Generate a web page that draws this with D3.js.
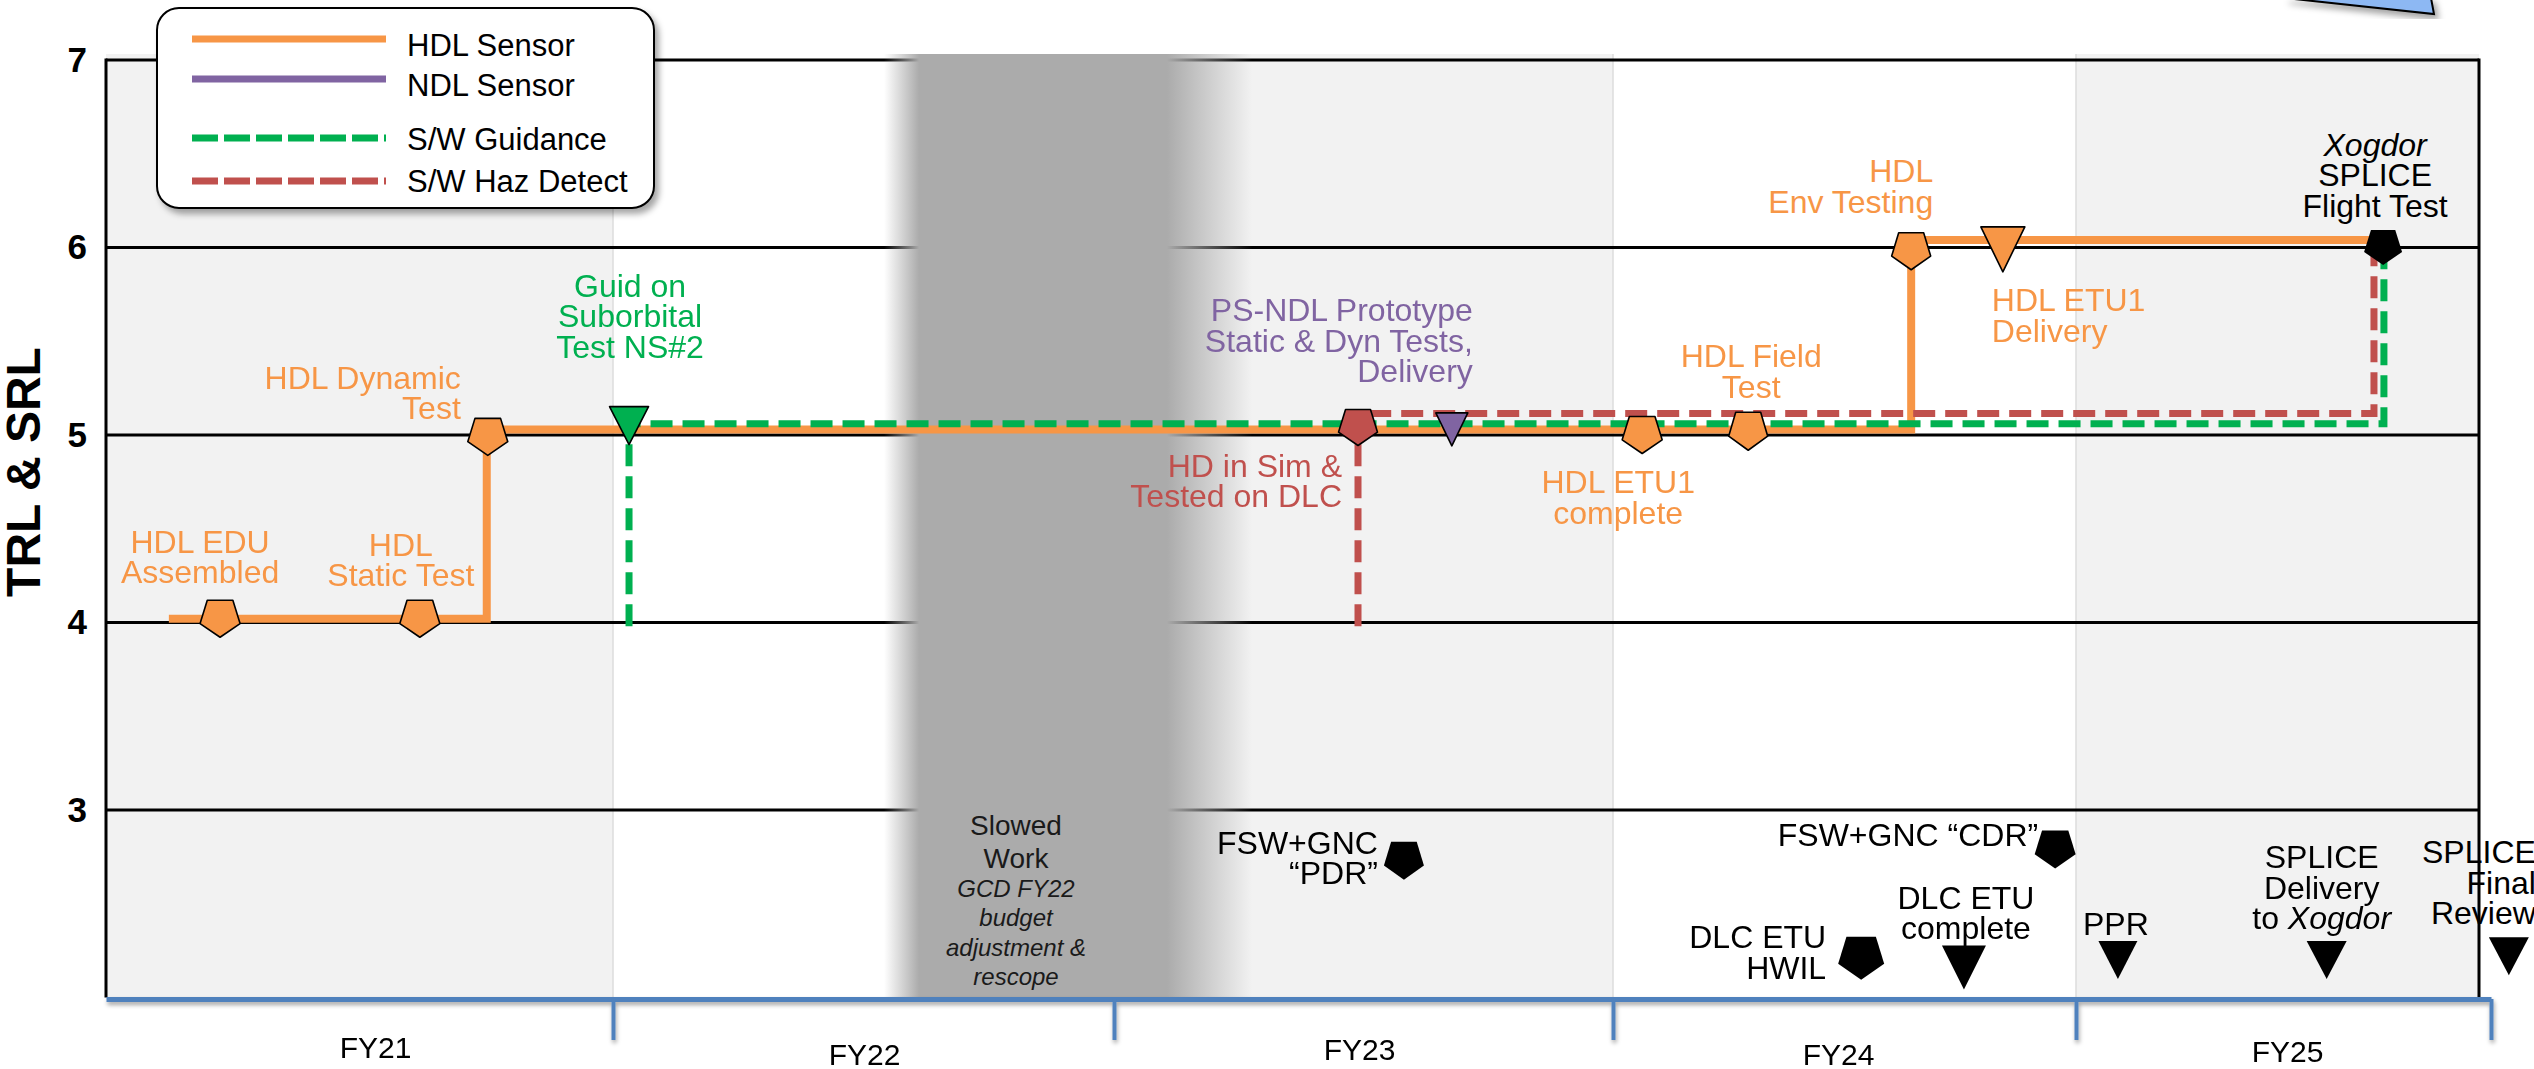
<!DOCTYPE html>
<html><head><meta charset="utf-8">
<script src="https://cdn.jsdelivr.net/npm/d3@7"></script>
<style>html,body{margin:0;padding:0;background:#fff;overflow:hidden}</style>
</head><body>
<svg id="chart" width="2534" height="1069"></svg>
<script>
// ================= DATA =================
const fiscalYears = ["FY21", "FY22", "FY23", "FY24", "FY25"];
const yTickValues = [3, 4, 5, 6, 7];
const yAxisTitle = "TRL & SRL";
const seriesNames = ["HDL Sensor", "NDL Sensor", "S/W Guidance", "S/W Haz Detect"];

// step paths: time = fiscal years elapsed since start of FY21, level = TRL/SRL
const hdlTime = [0.124, 0.751, 0.751, 3.644, 3.644, 4.73];
const hdlLevel = [4.02, 4.02, 5.03, 5.03, 6.04, 6.04];
const guidanceTime = [1.032, 1.032, 4.742, 4.742];
const guidanceLevel = [3.98, 5.06, 5.06, 6.0];
const hazTime = [2.489, 2.489, 4.718, 4.718];
const hazLevel = [3.98, 5.115, 5.115, 6.0];

// milestones ("|" = line break, *text* = italic)
const milestoneLabels = [
  "HDL EDU|Assembled", "HDL|Static Test", "HDL Dynamic|Test", "Guid on|Suborbital|Test NS#2",
  "HD in Sim &|Tested on DLC", "PS-NDL Prototype|Static & Dyn Tests,|Delivery",
  "HDL ETU1|complete", "HDL Field|Test", "HDL|Env Testing", "HDL ETU1|Delivery",
  "*Xogdor*|SPLICE|Flight Test", "FSW+GNC|\u201CPDR\u201D", "FSW+GNC \u201CCDR\u201D",
  "DLC ETU|HWIL", "DLC ETU|complete", "PPR", "SPLICE|Delivery|to *Xogdor*", "SPLICE|Final|Review"
];
const milestoneTime = [0.225, 0.619, 0.753, 1.032, 2.489, 2.677, 3.063, 3.292, 3.644, 3.842,
  4.740, 2.581, 3.955, 3.536, 3.758, 4.101, 4.604, 5.043];
const milestoneLevel = [4.02, 4.02, 4.99, 5.05, 5.04, 5.03, 5.0, 5.02, 5.98, 5.99,
  6.0, 2.73, 2.79, 2.21, 2.16, 2.2, 2.2, 2.22];
// 0 HDL, 1 NDL, 2 Guidance, 3 Haz Detect, 4 programme milestone
const milestoneSeries = [0, 0, 0, 2, 3, 1, 0, 0, 0, 0, 4, 4, 4, 4, 4, 4, 4, 4];
const milestoneShape = ["pent", "pent", "pent", "tri", "pent", "tri", "pent", "pent", "pent", "tri",
  "pent", "pent", "pent", "pent", "tri", "tri", "tri", "tri"];

const slowedWorkFade = [1.541, 2.277];
const slowedWorkCore = [1.611, 2.106];
const slowedWorkTitle = ["Slowed", "Work"];
const slowedWorkNote = ["GCD FY22", "budget", "adjustment &", "rescope"];

// ================= STYLE / LAYOUT =================
const seriesColor = ["#f79646", "#8064a2", "#00b050", "#c0504d", "#000000"];
const FONT = "'Liberation Sans', Arial, Helvetica, sans-serif";
const W = 2534, H = 1069;
const plotLeft = 106, plotRight = 2479, plotTop = 60, plotBottom = 997.5;
const markerSize = [[40,37],[40,37],[40,37],[39,38],[39,36],[32,33],[40,37],[39,38],[39,37],[44,45],
  [38,35],[40,38],[41,38],[46,43],[44,44],[39,38],[40,38],[40,38]];
// [anchor, dx, dy of first baseline] relative to marker centre
const labelLayout = [["middle",-20,-66],["middle",-19,-63],["end",-27,-48],["middle",1,-129],
  ["end",-16,49],["end",21,-108],["middle",-24,58],["middle",3,-64],["end",22,-69],["start",-11,62],
  ["middle",-8,-92],["end",-26,-7],["end",-17,-3],["end",-35,-10],["middle",2,-59],["middle",-2,-25],
  ["middle",-5,-92],["end",27,-93]];
const fyLabelLayout = [[16,1058],[1,1065],[-4,1060],[-6,1065],[4,1062]];

const svg = d3.select("#chart");
const defs = svg.append("defs");
const sh = defs.append("filter").attr("id","shadow").attr("x","-10%").attr("y","-10%").attr("width","130%").attr("height","140%");
sh.append("feDropShadow").attr("dx",4).attr("dy",5).attr("stdDeviation",3).attr("flood-color","#000").attr("flood-opacity",0.35);
const sh2 = defs.append("filter").attr("id","axshadow").attr("x","-5%").attr("y","-50%").attr("width","110%").attr("height","300%");
sh2.append("feDropShadow").attr("dx",1).attr("dy",3).attr("stdDeviation",2).attr("flood-color","#000").attr("flood-opacity",0.35);

const x = d3.scaleLinear().domain(d3.range(0, 6)).range([106, 613, 1114, 1613, 2076, 2491]);
const y = d3.scaleLinear().domain([2, 7]).range([plotBottom, plotTop]);

// decorative corner shape (top right)
svg.append("polygon").attr("points","2285,-2 2434,14 2431,-2").attr("fill","#8db8f3")
  .attr("stroke","#000").attr("stroke-width",2).attr("filter","url(#shadow)");

// year shading
fiscalYears.forEach((fy, i) => {
  const x0 = x(i), x1 = Math.min(x(i + 1), plotRight);
  svg.append("rect").attr("x", x0).attr("y", 54).attr("width", x1 - x0).attr("height", plotBottom - 54)
    .attr("fill", i % 2 === 0 ? "#f2f2f2" : "#ffffff");
  if (i > 0) svg.append("line").attr("x1", x0).attr("x2", x0).attr("y1", 54).attr("y2", plotBottom)
    .attr("stroke", "#dcdcdc").attr("stroke-width", 1.5);
});

// gridlines
svg.append("g").selectAll("line").data(yTickValues).join("line")
  .attr("x1", plotLeft).attr("x2", plotRight).attr("y1", d => y(d)).attr("y2", d => y(d))
  .attr("stroke", "#000").attr("stroke-width", 3);
// left / right borders
svg.append("line").attr("x1", plotLeft).attr("x2", plotLeft).attr("y1", plotTop - 1.5).attr("y2", plotBottom).attr("stroke", "#000").attr("stroke-width", 3);
svg.append("line").attr("x1", plotRight).attr("x2", plotRight).attr("y1", plotTop - 1.5).attr("y2", plotBottom).attr("stroke", "#000").attr("stroke-width", 3);

// slowed work band
const bx0 = x(slowedWorkFade[0]), bx1 = x(slowedWorkFade[1]);
const grad = defs.append("linearGradient").attr("id", "band").attr("x1", 0).attr("x2", 1).attr("y1", 0).attr("y2", 0);
[[0, 0], [(x(slowedWorkCore[0]) - bx0) / (bx1 - bx0), 1], [(x(slowedWorkCore[1]) - bx0) / (bx1 - bx0), 1], [1, 0]]
  .forEach(([o, op]) => grad.append("stop").attr("offset", o).attr("stop-color", "#ababab").attr("stop-opacity", op));
svg.append("rect").attr("x", bx0).attr("y", 54).attr("width", bx1 - bx0).attr("height", plotBottom - 54).attr("fill", "url(#band)");
const bandCx = (x(slowedWorkCore[0]) + x(slowedWorkCore[1])) / 2 - 27;
slowedWorkTitle.forEach((t, i) => svg.append("text").attr("x", bandCx).attr("y", 835 + i * 33)
  .attr("text-anchor", "middle").attr("font-family", FONT).attr("font-size", 28).attr("fill", "#1a1a1a").text(t));
slowedWorkNote.forEach((t, i) => svg.append("text").attr("x", bandCx).attr("y", 897 + i * 29.3)
  .attr("text-anchor", "middle").attr("font-family", FONT).attr("font-size", 24).attr("font-style", "italic").attr("fill", "#1a1a1a").text(t));

// y axis
const yAxis = svg.append("g").attr("transform", `translate(${plotLeft},0)`)
  .call(d3.axisLeft(y).tickValues(yTickValues).tickSize(0).tickPadding(19).tickFormat(d3.format("d")));
yAxis.select(".domain").remove();
yAxis.selectAll("text").attr("font-family", FONT).attr("font-size", 35).attr("font-weight", "bold").attr("fill", "#000");
svg.append("text").attr("transform", "translate(40,472) rotate(-90)").attr("text-anchor", "middle")
  .attr("font-family", FONT).attr("font-size", 48).attr("font-weight", "bold").attr("fill", "#000").text(yAxisTitle);

// x axis
const xAxis = svg.append("g").attr("transform", "translate(0,999)").attr("filter", "url(#axshadow)")
  .call(d3.axisBottom(x).tickValues([1, 2, 3, 4, 5]).tickSize(41).tickSizeOuter(0).tickFormat(""));
xAxis.select(".domain").attr("stroke", "#4f81bd").attr("stroke-width", 5);
xAxis.selectAll(".tick line").attr("stroke", "#4f81bd").attr("stroke-width", 4);
fiscalYears.forEach((fy, i) => svg.append("text").attr("x", (x(i) + x(i + 1)) / 2 + fyLabelLayout[i][0])
  .attr("y", fyLabelLayout[i][1]).attr("text-anchor", "middle").attr("font-family", FONT)
  .attr("font-size", 30).attr("fill", "#000").text(fy));

// series lines
const line = d3.line().x(d => x(d[0])).y(d => y(d[1]));
const zip = (a, b) => a.map((v, i) => [v, b[i]]);
svg.append("path").attr("d", line(zip(hdlTime, hdlLevel))).attr("fill", "none").attr("stroke", seriesColor[0]).attr("stroke-width", 8);
svg.append("path").attr("d", line(zip(hazTime, hazLevel))).attr("fill", "none").attr("stroke", seriesColor[3]).attr("stroke-width", 7).attr("stroke-dasharray", "22,10");
svg.append("path").attr("d", line(zip(guidanceTime, guidanceLevel))).attr("fill", "none").attr("stroke", seriesColor[2]).attr("stroke-width", 7).attr("stroke-dasharray", "22,10");

// markers
function shapePath(kind, w, h) {
  if (kind === "tri") return `M${-w/2},${-h/2}L${w/2},${-h/2}L0,${h/2}Z`;
  return `M${-0.32*w},${-h/2}L${0.32*w},${-h/2}L${0.5*w},${0.13*h}L0,${h/2}L${-0.5*w},${0.13*h}Z`;
}
function addLines(sel, str) {
  str.split("|").forEach((ln, li) => {
    const t = sel.append("tspan").attr("x", 0).attr("y", li * 30.5);
    ln.split("*").forEach((seg, si) => { if (seg) t.append("tspan").attr("font-style", si % 2 ? "italic" : "normal").text(seg); });
  });
}
milestoneLabels.forEach((lab, i) => {
  const mx = x(milestoneTime[i]), my = y(milestoneLevel[i]);
  const s = milestoneSeries[i];
  const [w, h] = markerSize[i];
  svg.append("path").attr("transform", `translate(${mx},${my})`).attr("d", shapePath(milestoneShape[i], w, h))
    .attr("fill", seriesColor[s]).attr("stroke", "#000").attr("stroke-width", s === 4 ? 0 : 1.6).attr("stroke-linejoin", "round");
  const [anchor, dx, dy] = labelLayout[i];
  const t = svg.append("text").attr("transform", `translate(${mx + dx},${my + dy})`).attr("text-anchor", anchor)
    .attr("font-family", FONT).attr("font-size", 32).attr("fill", seriesColor[s]);
  addLines(t, lab);
});

// legend
const lg = svg.append("g");
lg.append("rect").attr("x", 157).attr("y", 8).attr("width", 497).attr("height", 200).attr("rx", 22)
  .attr("fill", "#fff").attr("stroke", "#000").attr("stroke-width", 2).attr("filter", "url(#shadow)");
const legendRowY = [39, 79, 138, 181], legendTextY = [56, 96, 150, 192];
seriesNames.forEach((n, i) => {
  lg.append("line").attr("x1", 192).attr("x2", 386).attr("y1", legendRowY[i]).attr("y2", legendRowY[i])
    .attr("stroke", seriesColor[i]).attr("stroke-width", 7).attr("stroke-dasharray", i >= 2 ? "26,6" : null);
  lg.append("text").attr("x", 407).attr("y", legendTextY[i]).attr("font-family", FONT).attr("font-size", 31).attr("fill", "#000").text(n);
});
</script>
</body></html>
